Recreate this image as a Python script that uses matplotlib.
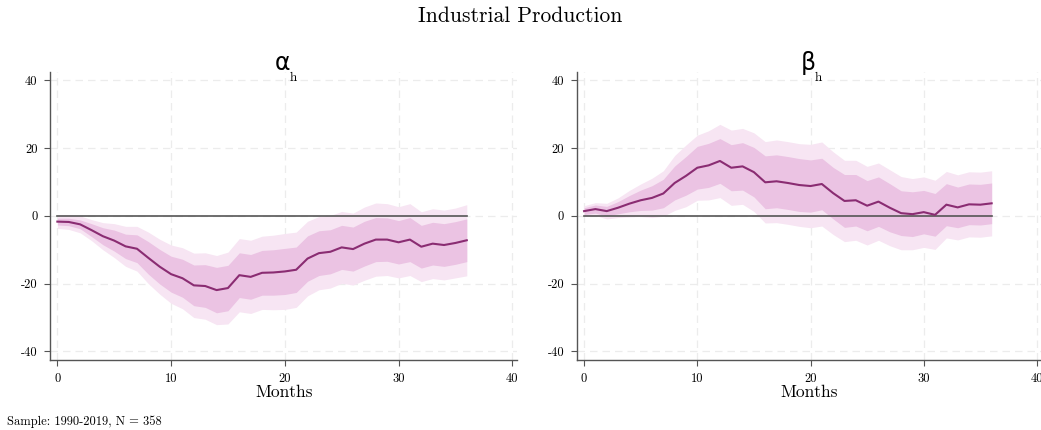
import numpy as np
import matplotlib
matplotlib.use("Agg")
import matplotlib.pyplot as plt

plt.rcParams['font.family'] = ['cmr10', 'DejaVu Serif']
plt.rcParams['axes.unicode_minus'] = False

months = np.arange(37)

# alpha_h: point estimate and band half-widths (inner / outer)
alpha_mean = [-1.7, -1.8, -2.5, -4.2, -6.0, -7.3, -9.0, -9.7, -12.4, -15.0, -17.2, -18.4, -20.5, -20.7,
              -21.9, -21.3, -17.5, -18.0, -16.8, -16.7, -16.4, -15.9, -12.6, -11.0, -10.6, -9.3, -9.8,
              -8.2, -7.0, -7.0, -7.8, -7.0, -9.1, -8.2, -8.6, -8.0, -7.2]
alpha_w68 = [1.0, 1.1, 1.3, 1.9, 2.5, 3.1, 3.6, 4.1, 4.8, 5.1, 5.3, 5.6, 6.0, 6.3, 6.7, 6.7, 6.6, 6.6, 6.6,
             6.7, 6.8, 6.7, 6.7, 6.6, 6.5, 6.5, 6.5, 6.6, 6.5, 6.4, 6.4, 6.5, 6.3, 6.3, 6.3, 6.3, 6.3]
alpha_w90 = [2.0, 2.2, 2.5, 3.1, 4.0, 5.0, 5.9, 6.6, 7.6, 8.1, 8.6, 9.0, 9.5, 9.8, 10.2, 10.6, 10.8, 10.8,
             10.8, 11.0, 11.2, 11.1, 11.0, 10.8, 10.7, 10.6, 10.6, 10.8, 10.8, 10.6, 10.5, 10.6, 10.3,
             10.3, 10.3, 10.3, 10.5]

# beta_h
beta_mean = [1.4, 2.0, 1.4, 2.4, 3.6, 4.6, 5.3, 6.6, 9.7, 11.8, 14.2, 14.9, 16.2, 14.2, 14.6, 12.9, 9.9,
             10.2, 9.7, 9.1, 8.8, 9.4, 6.7, 4.4, 4.6, 3.0, 4.2, 2.4, 0.8, 0.5, 1.1, 0.3, 3.3, 2.5, 3.4,
             3.3, 3.7]
beta_w68 = [1.0, 1.2, 1.4, 1.8, 2.4, 3.0, 3.6, 4.2, 5.0, 5.7, 6.3, 6.5, 6.6, 6.8, 7.0, 7.3, 7.8, 7.8, 7.8,
            7.8, 7.7, 7.6, 7.6, 7.8, 7.6, 7.4, 7.3, 7.1, 6.6, 6.6, 6.4, 6.3, 6.2, 6.0, 6.0, 6.0, 6.0]
beta_w90 = [1.6, 1.9, 2.3, 2.9, 3.9, 4.8, 5.8, 6.7, 8.1, 9.1, 9.6, 10.2, 10.8, 11.1, 11.2, 11.6, 12.0,
            12.2, 12.2, 12.2, 12.3, 12.4, 12.2, 12.0, 11.8, 11.6, 11.4, 11.2, 10.8, 10.5, 10.4, 10.2,
            9.8, 9.6, 9.6, 9.6, 9.6]

yticks = [-40, -20, 0, 20, 40]
xticks = [0, 10, 20, 30, 40]

line_col = '#8a2c72'
dark_col = '#ebc3e3'
light_col = '#f7e5f3'

fig = plt.figure(figsize=(10.41, 4.30), dpi=100)
ax1 = fig.add_axes([0.048, 0.163, 0.449, 0.670])
ax2 = fig.add_axes([0.554, 0.163, 0.447, 0.670])

panels = [(ax1, alpha_mean, alpha_w68, alpha_w90, '\u03b1'),
          (ax2, beta_mean, beta_w68, beta_w90, '\u03b2')]

for ax, mean, w68, w90, sym in panels:
    m = np.array(mean)
    w1 = np.array(w68)
    w2 = np.array(w90)
    ax.fill_between(months, m - w2, m + w2, color=light_col, lw=0, zorder=1)
    ax.fill_between(months, m - w1, m + w1, color=dark_col, lw=0, zorder=2)
    ax.plot([months[0], months[-1]], [0, 0], color='#555555', lw=1.2, zorder=3)
    ax.plot(months, m, color=line_col, lw=1.5, zorder=4)

    ax.set_xlim(-0.65, 40.45)
    ax.set_ylim(-42.5, 42.5)
    ax.set_xticks(xticks)
    ax.set_yticks(yticks)
    ax.set_yticklabels([str(v) for v in yticks])
    ax.set_xticklabels([str(v) for v in xticks])
    ax.tick_params(labelsize=9, length=4, color='#555555', pad=5)
    ax.grid(True, color='#ececec', ls=(0, (6, 4)), lw=0.9)
    ax.set_axisbelow(True)
    for s in ['top', 'right']:
        ax.spines[s].set_visible(False)
    for s in ['left', 'bottom']:
        ax.spines[s].set_color('#555555')
        ax.spines[s].set_linewidth(1.0)
    ax.set_xlabel('Months', fontsize=12.5, labelpad=0)
    ax.text(0.497, 0.99, sym, transform=ax.transAxes, ha='center', va='bottom',
            fontsize=17, family='DejaVu Sans')
    ax.text(0.512, 1.0, 'h', transform=ax.transAxes, ha='left', va='top', fontsize=9.5)

fig.text(0.5, 0.962, 'Industrial Production', ha='center', va='center', fontsize=15.5)
fig.text(0.007, 0.02, 'Sample: 1990-2019, N = 358', ha='left', va='center', fontsize=9)

fig.savefig('out.png', dpi=100)
